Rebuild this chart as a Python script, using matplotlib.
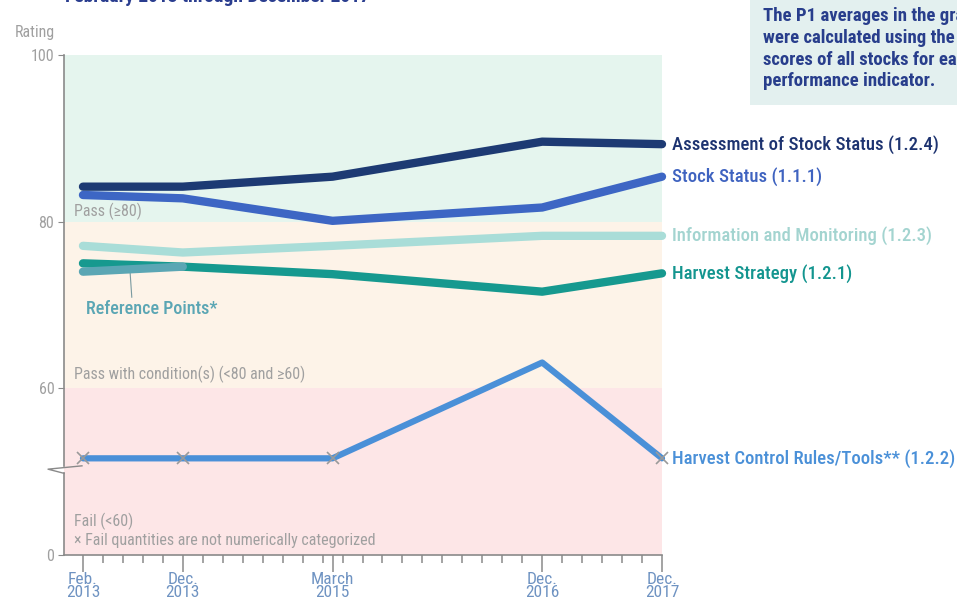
import matplotlib
matplotlib.use("Agg")
import matplotlib.pyplot as plt
from matplotlib import font_manager

# month index counted from Feb. 2013
dates = [0, 10, 25, 46, 58]
date_labels = ["Feb.\n2013", "Dec.\n2013", "March\n2015", "Dec.\n2016", "Dec.\n2017"]

assess = [84.2, 84.2, 85.4, 89.6, 89.3]
stock_status = [83.2, 82.8, 80.1, 81.7, 85.4]
info_mon = [77.1, 76.3, 77.1, 78.3, 78.3]
harvest_strat = [75.0, 74.6, 73.7, 71.6, 73.8]
ref_points = [74.0, 74.6]
# None = fail, not numerically categorized
hcr = [None, None, None, 63.1, None]
FAIL = 51.6   # where fails are drawn (below the axis break)

names = ["Assessment of Stock Status (1.2.4)", "Stock Status (1.1.1)",
         "Information and Monitoring (1.2.3)", "Harvest Strategy (1.2.1)"]
colors = ["#1d3a73", "#3d66c4", "#a9ddd8", "#16998f"]
text_colors = ["#1d3370", "#3f63c0", "#a3d4d0", "#13958f"]
hcr_color = "#4a90d8"
ref_color = "#5ba6b4"

avail = {f.name for f in font_manager.fontManager.ttflist}
cond = "Roboto Condensed" if "Roboto Condensed" in avail else "Roboto"
plt.rcParams['font.family'] = [cond, 'DejaVu Sans']

fig = plt.figure(figsize=(9.57, 6.03), dpi=100)
W, H = 957, 603
ax = fig.add_axes([64 / W, 1 - 555 / H, (662 - 64) / W, (555 - 55) / H])
ax.set_xlim(-1.9, 58)
ax.set_ylim(40, 100)

# rating bands
ax.axhspan(80, 100, color="#e5f5ee", lw=0, zorder=0)
ax.axhspan(60, 80, color="#fdf3e8", lw=0, zorder=0)
ax.axhspan(40, 60, color="#fde6e7", lw=0, zorder=0)

for vals, c in zip([assess, stock_status, info_mon, harvest_strat], colors):
    ax.plot(dates, vals, color=c, lw=6, solid_capstyle="round",
            solid_joinstyle="round", clip_on=False, zorder=3)
ax.plot(dates[:2], ref_points, color=ref_color, lw=6, solid_capstyle="round",
        clip_on=False, zorder=4)

hcr_y = [FAIL if v is None else v for v in hcr]
ax.plot(dates, hcr_y, color=hcr_color, lw=4.5, solid_capstyle="round",
        clip_on=False, zorder=3)
fx = [d for d, v in zip(dates, hcr) if v is None]
ax.plot(fx, [FAIL] * len(fx), ls="none", marker="x", ms=8, mew=1.2,
        color="#9a9a9a", clip_on=False, zorder=5)

# line labels
label_vals = [assess[-1], stock_status[-1], info_mon[-1], harvest_strat[-1]]
for n, c, v in zip(names, text_colors, label_vals):
    ax.annotate(n, (dates[-1], v), xytext=(7.5, 0), textcoords="offset points",
                color=c, fontsize=13.5, fontweight="medium",
                va="center", ha="left", annotation_clip=False)
ax.annotate("Harvest Control Rules/Tools** (1.2.2)", (dates[-1], FAIL),
            xytext=(7.5, 0), textcoords="offset points", color=hcr_color,
            fontsize=13.5, fontweight="medium", va="center", ha="left",
            annotation_clip=False)

ax.annotate("Reference Points*", (4.7, 74.3), xytext=(0.3, 69.5),
            color=ref_color, fontsize=13, fontweight="medium", va="center",
            arrowprops=dict(arrowstyle="-", color="#7a9aa0", lw=0.8,
                            shrinkA=0, shrinkB=0, relpos=(0.35, 1)))

# band labels
gray = "#a0a0a0"
ax.text(-0.9, 81.2, "Pass (\u226580)", color=gray, fontsize=11.5, va="center")
ax.text(-0.9, 61.7, "Pass with condition(s) (<80 and \u226560)", color=gray,
        fontsize=11.5, va="center")
ax.text(-0.9, 44.0, "Fail (<60)", color=gray, fontsize=11.5, va="center")
ax.text(-0.9, 41.8, "\u00d7 Fail quantities are not numerically categorized",
        color=gray, fontsize=11.5, va="center")

# axes styling
for s in ["top", "right", "left"]:
    ax.spines[s].set_visible(False)
axis_col = "#8a8a8a"
ax.spines["bottom"].set_color(axis_col)
ax.spines["bottom"].set_linewidth(1.2)
# broken left spine with zigzag
ax.plot([-1.9, -1.9], [100, 50.7], color=axis_col, lw=1.2, clip_on=False)
ax.plot([-1.9, -1.9], [49.8, 40], color=axis_col, lw=1.2, clip_on=False)
ax.plot([-0.1, -3.5, -1.9], [50.7, 50.3, 49.8], color=axis_col, lw=1.0,
        clip_on=False)

ax.set_yticks([40, 60, 80, 100])
ax.set_yticklabels(["0", "60", "80", "100"])
ax.tick_params(axis="y", length=4, color=axis_col, labelcolor=gray,
               labelsize=11.5, pad=3)
ax.set_xticks(dates)
ax.set_xticklabels(date_labels, linespacing=0.78)
ax.set_xticks(list(range(0, 59, 2)), minor=True)
ax.tick_params(axis="x", which="major", length=12, width=1.1, color=axis_col,
               labelcolor="#6f93c2", labelsize=12.5, pad=0.5)
ax.tick_params(axis="x", which="minor", length=6, width=1.1, color=axis_col)

fig.text(15 / W, 1 - 33 / H, "Rating", color=gray, fontsize=11.5, va="center")

# title line, mostly cut off at the top of the picture
fig.text(65 / W, 1 - 1.5 / H, "February 2013 through December 2017",
         color="#2a3d8f", fontsize=14, fontweight="bold", va="baseline")

# note box
fig.patches.append(plt.Rectangle((750 / W, 1 - 105 / H), 210 / W, 105 / H,
                                 transform=fig.transFigure, color="#e3f0ef",
                                 lw=0, zorder=0))
note = ("The P1 averages in the graph\nwere calculated using the average\n"
        "scores of all stocks for each\nperformance indicator.")
fig.text(763 / W, 1 - 7 / H, note, color="#283e8c", fontsize=13.5,
         fontweight="bold", va="top", ha="left", linespacing=1.27)

fig.savefig("out.png", dpi=100)
